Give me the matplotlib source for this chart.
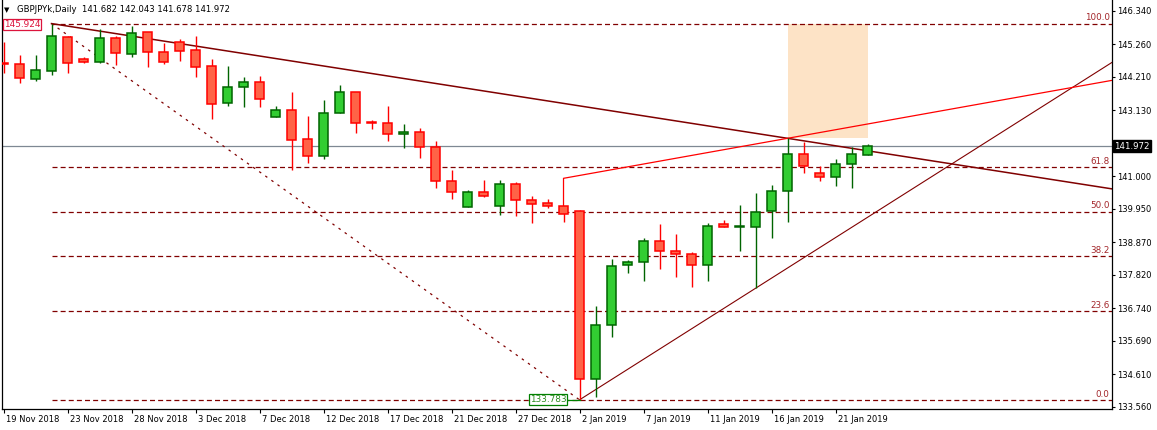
import matplotlib.pyplot as plt
from matplotlib.patches import Rectangle
from matplotlib.transforms import ScaledTranslation

# daily GBPJPYk bars, 19 Nov 2018 .. 23 Jan 2019
opens = [144.662, 144.620, 144.145, 144.404, 145.481, 144.771, 144.694, 145.449, 144.952, 145.643,
         144.997, 145.320, 145.062, 144.545, 143.352, 143.868, 144.029, 142.919, 143.135, 142.190,
         141.641, 143.029, 143.707, 142.748, 142.706, 142.351, 142.416, 141.932, 140.835, 140.015,
         140.480, 140.047, 140.738, 140.221, 140.124, 140.028, 139.886, 134.445, 136.188, 138.124,
         138.221, 138.898, 138.576, 138.479, 138.124, 139.447, 139.350, 139.376, 139.866, 140.512,
         141.706, 141.093, 140.964, 141.383, 141.682]
highs = [145.330, 144.910, 144.910, 145.924, 145.523, 144.836, 145.740, 145.523, 145.846, 145.662,
         145.307, 145.426, 145.523, 144.771, 144.555, 144.191, 144.232, 143.264, 143.716, 142.942,
         143.458, 143.942, 143.726, 142.813, 143.264, 142.674, 142.545, 142.135, 141.199, 140.554,
         140.876, 140.876, 140.802, 140.360, 140.254, 140.037, 139.908, 136.810, 138.327, 138.295,
         138.995, 139.457, 139.134, 138.553, 139.499, 139.585, 140.070, 140.447, 140.715, 142.222,
         142.112, 141.319, 141.544, 141.932, 142.043]
lows = [144.320, 144.016, 144.081, 144.265, 144.339, 144.662, 144.662, 144.587, 144.855, 144.533,
        144.620, 144.726, 144.191, 142.855, 143.274, 143.242, 143.242, 142.919, 141.199, 141.435,
        141.544, 143.029, 142.384, 142.513, 142.145, 141.919, 141.596, 140.609, 140.254, 140.015,
        140.318, 139.757, 139.724, 139.498, 139.963, 139.531, 133.783, 133.883, 135.820, 137.866,
        137.627, 137.995, 137.756, 137.433, 137.627, 139.350, 138.595, 137.382, 138.995, 139.531,
        141.093, 140.854, 140.692, 140.628, 141.678]
closes = [144.610, 144.158, 144.416, 145.523, 144.642, 144.694, 145.449, 144.965, 145.610, 144.997,
          144.694, 145.049, 144.533, 143.319, 143.868, 144.029, 143.481, 143.135, 142.167, 141.641,
          143.029, 143.707, 142.706, 142.706, 142.361, 142.416, 141.932, 140.835, 140.480, 140.480,
          140.351, 140.738, 140.221, 140.092, 140.028, 139.779, 134.445, 136.188, 138.091, 138.221,
          138.898, 138.576, 138.479, 138.124, 139.382, 139.350, 139.382, 139.860, 140.522, 141.706,
          141.319, 140.964, 141.383, 141.706, 141.972]

date_labels = ["19 Nov 2018", "23 Nov 2018", "28 Nov 2018", "3 Dec 2018", "7 Dec 2018",
               "12 Dec 2018", "17 Dec 2018", "21 Dec 2018", "27 Dec 2018", "2 Jan 2019",
               "7 Jan 2019", "11 Jan 2019", "16 Jan 2019", "21 Jan 2019"]
price_ticks = [146.340, 145.260, 144.210, 143.130, 142.050, 141.000, 139.950,
               138.870, 137.820, 136.740, 135.690, 134.610, 133.560]

fib_levels = [0.0, 23.6, 38.2, 50.0, 61.8, 100.0]
fib_high = 145.924   # bar 3
fib_low = 133.783    # bar 36
last_price = 141.972
red_anchor = 140.931  # start of the red trend line, bar 35

dark_red = "#800000"
x_max = 69.28


def extend(x1, y1, x2, y2, x_end):
    slope = (y2 - y1) / (x2 - x1)
    return [x1, x_end], [y1, y1 + slope * (x_end - x1)]


fig = plt.figure(figsize=(11.57, 4.30), dpi=100)
ax = fig.add_axes([2 / 1157, 21 / 430, 1110 / 1157, 409 / 430])
ax.set_xlim(-0.094, x_max)
ax.set_ylim(133.487, 146.685)

# highlighted zone
ax.add_patch(Rectangle((49, highs[49]), 54 - 49, fib_high - highs[49],
                       facecolor="#FDE3C6", edgecolor="none", zorder=0))

# current price line
ax.axhline(last_price, color="#7E8893", lw=0.9, zorder=1)

# fibonacci levels
for lev in fib_levels:
    price = fib_low + (fib_high - fib_low) * lev / 100
    ax.plot([3, x_max], [price, price], color=dark_red, lw=0.9,
            dashes=(4, 2.5), zorder=1)
    ax.text(x_max - 0.15, price + 0.04, "%.1f" % lev, ha="right", va="bottom",
            fontsize=6.3, color="#A3262A", zorder=5)
ax.plot([3, 36], [fib_high, fib_low], color=dark_red, lw=0.9, dashes=(2, 4), zorder=1)

# trend lines
xs, ys = extend(3, highs[3], 49, highs[49], x_max)
ax.plot(xs, ys, color=dark_red, lw=1.1, zorder=2)
xs, ys = extend(36, lows[36], 47, lows[47], x_max)
ax.plot(xs, ys, color=dark_red, lw=0.8, zorder=2)
xs, ys = extend(35, red_anchor, 49, highs[49], x_max)
ax.plot([35] + xs, [highs[35]] + ys, color="#FF0000", lw=0.9, zorder=2)

# candles
for i in range(len(opens)):
    o, h, l, c = opens[i], highs[i], lows[i], closes[i]
    if c >= o:
        fill, edge = "#32CD32", "#006400"
    else:
        fill, edge = "#FF6347", "#FF0000"
    ax.vlines(i, l, h, color=edge, lw=1.0, zorder=3)
    ax.bar(i, max(abs(c - o), 0.005), bottom=min(o, c), width=0.6,
           color=fill, edgecolor=edge, linewidth=1.1, zorder=4)

# price labels
ax.text(1.16, 145.905, "145.924", ha="center", va="center", fontsize=6.4,
        color="#DC143C", zorder=6,
        bbox=dict(boxstyle="square,pad=0.12", fc="white", ec="#DC143C", lw=0.9))
ax.plot([35.3, 36], [fib_low, fib_low], color="#008000", lw=0.9, zorder=5)
ax.text(34.03, 133.80, "133.783", ha="center", va="center", fontsize=6.4,
        color="#2A8A1E", zorder=6,
        bbox=dict(boxstyle="square,pad=0.12", fc="white", ec="#008000", lw=0.9))
ax.annotate("141.972", xy=(1, last_price), xycoords=("axes fraction", "data"),
            xytext=(1.5, 0), textcoords="offset points", ha="left", va="center",
            fontsize=6.2, color="white", zorder=10, annotation_clip=False,
            bbox=dict(boxstyle="square,pad=0.15", fc="black", ec="black"))

# axes styling
ax.spines["top"].set_visible(False)
for side in ["left", "right", "bottom"]:
    ax.spines[side].set_linewidth(0.9)
ax.yaxis.tick_right()
ax.set_yticks(price_ticks)
# the 142.050 label sits under the current price box
ax.set_yticklabels(["" if abs(p - 142.05) < 1e-6 else "%.3f" % p for p in price_ticks])
ax.tick_params(axis="y", length=2.5, width=0.8, pad=1.5, labelsize=6)
ax.set_xticks(range(0, 4 * len(date_labels), 4))
ax.set_xticklabels(date_labels)
ax.tick_params(axis="x", length=3, width=0.8, pad=1.5, labelsize=6)
offset = ScaledTranslation(2 / 100, 0, fig.dpi_scale_trans)
for lbl in ax.get_xticklabels():
    lbl.set_horizontalalignment("left")
    lbl.set_transform(lbl.get_transform() + offset)

# header
fig.text(4 / 1157, 1 - 10 / 430, "\u25bc", fontsize=5, va="center", ha="left")
fig.text(17 / 1157, 1 - 10 / 430, "GBPJPYk,Daily  141.682 142.043 141.678 141.972",
         fontsize=6.1, va="center", ha="left")

fig.savefig("out.png", dpi=100)
